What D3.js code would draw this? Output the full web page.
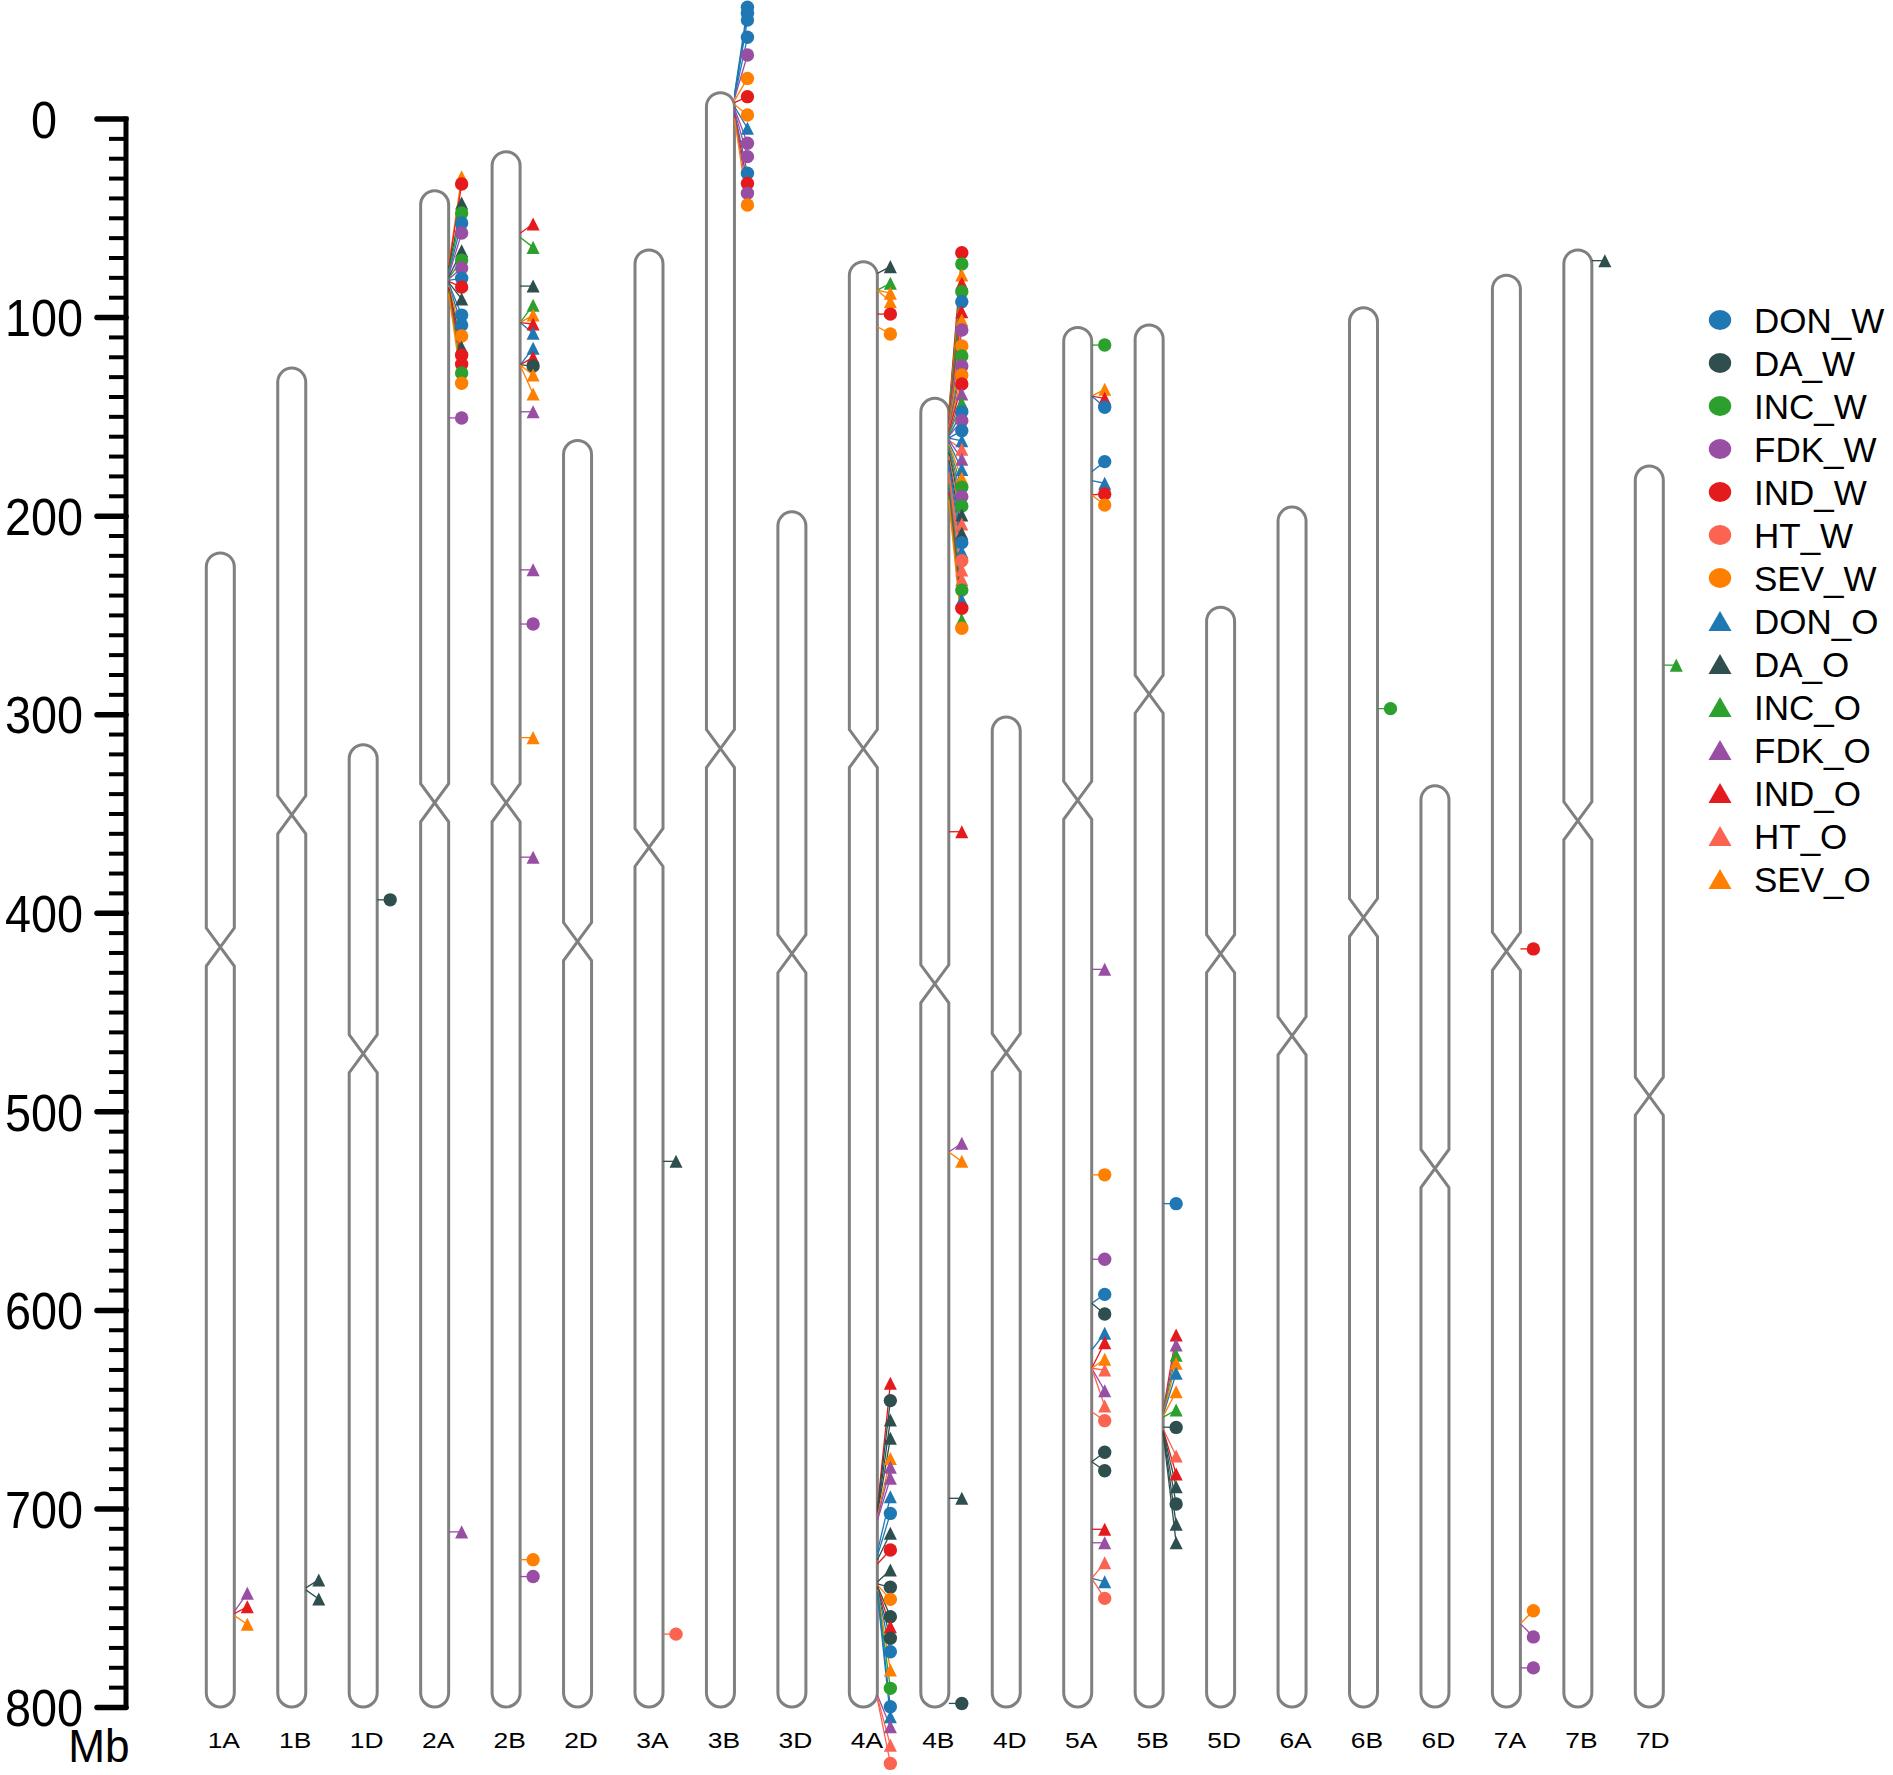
<!DOCTYPE html>
<html>
<head>
<meta charset="utf-8">
<script src="https://cdn.jsdelivr.net/npm/d3@7"></script>
<style>
  body { margin: 0; background: #ffffff; }
  text { font-family: "Liberation Sans", Arial, sans-serif; fill: #000; }
</style>
</head>
<body>
<div id="chart"></div>
<script>
// Chromosomes: outline starts at chromStart (Mb on the axis) and ends at 800
const chroms = ["1A","1B","1D","2A","2B","2D","3A","3B","3D","4A","4B","4D","5A","5B","5D","6A","6B","6D","7A","7B","7D"];
const chromStart = [218.8, 125.7, 315.4, 36.4, 16.7, 162.2, 66.2, -13, 198.1, 72.1, 140.9, 301.4, 105.2, 104, 246.1, 195.7, 95.3, 336.1, 78.9, 66.2, 175];
const centromere = [417.3, 350.7, 471, 344.6, 344.6, 414.5, 367.1, 317.3, 420.6, 317.3, 435.8, 470.5, 343.4, 289.9, 420.6, 462, 402.4, 528.8, 419.4, 353.7, 492.4];

const traits = ["DON_W","DA_W","INC_W","FDK_W","IND_W","HT_W","SEV_W","DON_O","DA_O","INC_O","FDK_O","IND_O","HT_O","SEV_O"];
const traitColors = {DON: "#1f78b4", DA: "#2f4f4f", INC: "#2ca02c", FDK: "#984ea3", IND: "#e41a1c", HT: "#fa6450", SEV: "#ff7f00"};

const axisTicks = [0, 100, 200, 300, 400, 500, 600, 700, 800];

// QTL per chromosome: [trait, label position (Mb), position on chromosome (Mb, default = label)]
const qtl1A = [["FDK_O",742.7,752],["IND_O",749.5,753],["SEV_O",758.3,754]];
const qtl1B = [["DA_O",736,740],["DA_O",745.6,741]];
const qtl1D = [["DA_W",393.5]];
const qtl2A = [
  ["SEV_O",29.3,74],["IND_W",33.0,75],["DA_O",42.6,76],["INC_W",47.6,77],["DON_W",52.6,78],
  ["FDK_W",57.7,79],["DA_O",66.6,80],["INC_W",71.3,80.5],["FDK_W",75.3,81],["DON_W",80.4,81.5],
  ["IND_W",84.9,82],["DA_O",90.9,82.5],["DON_W",99.0,83],["DON_W",104.0,83.5],["SEV_W",109.5,84],
  ["DA_O",115.2,85],["IND_W",119.2,85.5],["IND_W",123.7,86],["INC_W",128.2,87],["SEV_W",133.3,88],
  ["FDK_W",150.8],["FDK_O",711.8]
];
const qtl2B = [
  ["IND_O",53.1,57.8],["INC_O",64.9,59.8],["DA_O",84.4],["INC_O",94.0,102.8],["SEV_O",99.0,102.8],
  ["IND_O",103.5,102.8],["DON_O",108.2,102.8],["DON_O",115.7,124.1],["IND_O",120.3,124.1],["DA_W",124.6,124.1],
  ["SEV_O",129.2,124.1],["SEV_O",138.7,124.1],["FDK_O",147.7],["FDK_O",227.3],["FDK_W",254.6],
  ["SEV_O",311.8],["FDK_O",372],["SEV_W",725.8],["FDK_W",734.3]
];
const qtl3A = [["DA_O",525.2],["HT_W",763.3]];
const qtl3B = [
  ["DON_W",-56.0,-12],["DON_W",-53.0,-11.5],["DON_W",-49.6,-11],["DON_W",-40.9,-10.5],["FDK_W",-32.0,-10],
  ["SEV_W",-20.2,-9],["IND_W",-11.0,-8],["SEV_W",-1.8,-7],["DON_O",4.9,-6],["FDK_W",12.5,-5],
  ["FDK_W",19.2,-4],["DON_W",27.6,-3],["IND_W",32.7,-2],["FDK_W",37.7,-1],["SEV_W",43.6,0]
];
const qtl4A = [
  ["DA_O",74.6,78],["INC_O",83.0,86.4],["SEV_O",88.0,86.4],["SEV_O",92.3,86.4],["IND_W",98.5],["SEV_W",108.5,104.9],
  ["IND_O",637.0,700],["DA_W",645.7,701],["DA_O",655.5,702],["DA_O",664.7,703],["SEV_O",674.8,704],
  ["FDK_O",679.3,705],["FDK_O",684.8,706],["DON_O",694.1,722],["DON_W",702.5,724],["DA_O",712.5,726],
  ["IND_W",720.9,728],["DA_O",731.0,737],["DA_W",739.7,738],["SEV_W",745.8,738.5],["DA_W",754.5,739],
  ["IND_O",759.6,739.5],["DA_W",765.4,740],["DON_W",772.2,740.5],["SEV_O",781.4,741],["INC_W",790.6,741.5],
  ["DON_W",799.9,742],["DON_O",804.9,742.5],["FDK_O",809.9,794],["HT_O",819.2,795],["HT_W",828.4,796]
];
const qtl4B = [
  ["IND_W",67.6,148],["INC_W",73.3,149],["SEV_O",78.8,150],["IND_O",83.0,151],["INC_W",87.2,152],
  ["DON_W",92.3,153],["IND_O",97.3,154],["SEV_O",101.5,155],["FDK_W",106.5,155],["SEV_W",114.6,156],
  ["INC_W",119.6,157],["FDK_W",124.6,157],["SEV_W",129.2,158],["IND_W",133.7,158],["FDK_O",138.7,159],
  ["INC_O",143.4,159],["DON_W",147.7,160],["FDK_W",152.2,160],["DON_W",157.2,161],["DON_O",162.3,161],
  ["HT_O",166.6,162],["FDK_O",171.6,162],["DON_O",176.7,163],["SEV_O",181.2,164],["INC_W",185.7,165],
  ["FDK_W",190.5,166],["INC_W",195.2,167],["DA_O",199.7,168],["HT_O",204.2,170],["DA_O",208.9,172],
  ["DON_W",213.6,174],["DON_O",218.2,176],["HT_W",222.7,178],["HT_O",227.4,180],["HT_O",232.1,182],
  ["INC_W",237.5,184],["DON_O",242.5,186],["IND_W",246.7,188],["INC_O",252.6,190],["SEV_W",256.7,192],
  ["IND_O",359.2],["FDK_O",516.1,520.5],["SEV_O",525.2,520.5],["DA_O",694.9],["DA_W",798.2]
];
const qtl5A = [
  ["INC_W",114.1],["SEV_O",136.4,139.8],["IND_O",140.9,139.8],["DON_W",145.4,139.8],["DON_W",172.8,177.9],
  ["DON_O",183.7,182.4],["IND_W",189.1,189.6],["SEV_W",194.7,189.6],["FDK_O",428.5],["SEV_W",532],
  ["FDK_W",574.5],["DON_W",592.2,596.7],["DA_W",602.1,596.7],["DON_O",611.8,620.2],["IND_O",616.5,629.4],
  ["SEV_O",624.9,629.4],["HT_O",630.3,629.4],["FDK_O",640.7,629.4],["HT_O",648.4,629.4],["HT_W",655.8,651.3],
  ["DA_W",671.7,676.5],["DA_W",681.0,676.5],["IND_O",710.5],["FDK_O",717.3],["HT_O",727.3,735.2],
  ["DON_O",736.9,735.2],["HT_W",745.3,735.2]
];
const qtl5B = [
  ["DON_W",546.5],
  ["IND_O",612.7,651],["FDK_O",617.7,651.5],["INC_O",622.8,652],["SEV_O",626.9,652.5],["DON_O",631.9,653],
  ["SEV_O",641.2,653.5],["INC_O",650.4,654],["DA_W",659.2,659],["HT_O",673.6,660],["IND_O",682.7,660.5],
  ["DA_O",689.1,661],["DA_W",697.8,661.5],["DA_O",707.9,662],["DA_O",717.3,662.5]
];
const qtl6B = [["INC_W",297.2]];
const qtl7A = [["IND_W",418.2],["SEV_W",751.5,758],["FDK_W",764.7,758],["FDK_W",780.3]];
const qtl7B = [["DA_O",71.6]];
const qtl7D = [["INC_O",275.3]];

const qtlByChrom = {
  "1A": qtl1A, "1B": qtl1B, "1D": qtl1D, "2A": qtl2A, "2B": qtl2B, "3A": qtl3A, "3B": qtl3B,
  "4A": qtl4A, "4B": qtl4B, "5A": qtl5A, "5B": qtl5B, "6B": qtl6B, "7A": qtl7A, "7B": qtl7B, "7D": qtl7D
};

const width = 1893, height = 1775;
const halfW = 14;      // half chromosome width
const cenH = 19;       // half height of the centromere cross
const markOff = 27;    // marker offset from chromosome centre

const svg = d3.select("#chart").append("svg")
  .attr("width", width)
  .attr("height", height);

const y = d3.scaleLinear().domain([0, 800]).range([118.5, 1707]);
const x = d3.scalePoint().domain(chroms).range([220.3, 1649.3]);

const colorOf = t => traitColors[t.split("_")[0]];

// custom triangle (as wide as tall)
const triangle = {
  draw(ctx, size) {
    const s = Math.sqrt(size);
    ctx.moveTo(0, -s / 2);
    ctx.lineTo(s / 2, s / 2);
    ctx.lineTo(-s / 2, s / 2);
    ctx.closePath();
  }
};
const markSymbol = d3.symbol()
  .type(t => t.endsWith("_W") ? d3.symbolCircle : triangle)
  .size(t => t.endsWith("_W") ? Math.PI * 6.7 * 6.7 : 170);

// Chromosome outline
function chromPath(cx, start, cen) {
  const yt = y(start), yb = y(800), yc = y(cen);
  const p = d3.path();
  p.moveTo(cx - halfW, yt + halfW);
  p.arc(cx, yt + halfW, halfW, Math.PI, 2 * Math.PI);
  p.lineTo(cx + halfW, yc - cenH);
  p.lineTo(cx - halfW, yc + cenH);
  p.lineTo(cx - halfW, yb - halfW);
  p.arc(cx, yb - halfW, halfW, Math.PI, 0, true);
  p.lineTo(cx + halfW, yc + cenH);
  p.lineTo(cx - halfW, yc - cenH);
  p.closePath();
  return p.toString();
}

svg.append("g").selectAll("path")
  .data(chroms)
  .join("path")
  .attr("d", (c, i) => chromPath(x(c), chromStart[i], centromere[i]))
  .attr("fill", "none")
  .attr("stroke", "#808080")
  .attr("stroke-width", 3)
  .attr("stroke-linejoin", "miter");

// chromosome names
svg.append("g").selectAll("text")
  .data(chroms)
  .join("text")
  .attr("transform", c => `translate(${x(c) + 3.5},1748) scale(1.2,1)`)
  .attr("text-anchor", "middle")
  .attr("font-size", 22)
  .text(c => c);

// QTL links and markers
const qtlRows = [];
Object.entries(qtlByChrom).forEach(([c, rows]) => {
  rows.forEach(r => qtlRows.push({chrom: c, trait: r[0], pos: r[1], at: r.length > 2 ? r[2] : r[1]}));
});

svg.append("g").selectAll("line")
  .data(qtlRows)
  .join("line")
  .attr("x1", d => x(d.chrom) + halfW)
  .attr("y1", d => y(d.at))
  .attr("x2", d => x(d.chrom) + markOff)
  .attr("y2", d => y(d.pos))
  .attr("stroke", d => colorOf(d.trait))
  .attr("stroke-width", 1.3);

svg.append("g").selectAll("path")
  .data(qtlRows)
  .join("path")
  .attr("transform", d => `translate(${x(d.chrom) + markOff},${y(d.pos)})`)
  .attr("d", d => markSymbol(d.trait))
  .attr("fill", d => colorOf(d.trait));

// Axis: minor ticks every 10 Mb, major every 100 Mb
const axisX = 126;
const minorTicks = d3.range(0, 801, 10).filter(v => v % 100 !== 0);

const minorAxis = svg.append("g")
  .attr("transform", `translate(${axisX},0)`)
  .call(d3.axisLeft(y).tickValues(minorTicks).tickSize(17).tickSizeOuter(0).tickFormat(""));
minorAxis.selectAll(".tick line").attr("stroke", "#000").attr("stroke-width", 4);
minorAxis.select(".domain").remove();

const majorAxis = svg.append("g")
  .attr("transform", `translate(${axisX},0)`)
  .call(d3.axisLeft(y).tickValues(axisTicks).tickSize(29).tickSizeOuter(0));
majorAxis.select(".domain")
  .attr("stroke", "#000")
  .attr("stroke-width", 5)
  .attr("d", `M0,${y(0) - 2}V${y(800) + 2}`);
majorAxis.selectAll(".tick line")
  .attr("stroke", "#000")
  .attr("stroke-width", 5.5)
  .attr("stroke-linecap", "round");
majorAxis.selectAll(".tick text")
  .attr("x", 0)
  .attr("dy", "0.36em")
  .attr("text-anchor", "middle")
  .attr("transform", `translate(${44 - axisX},0) scale(0.9,1)`)
  .attr("font-size", 52)
  .attr("font-family", "'Liberation Sans', Arial, sans-serif")
  .attr("fill", "#000");

svg.append("text")
  .attr("transform", "translate(99,1762) scale(0.96,1)")
  .attr("text-anchor", "middle")
  .attr("font-size", 46)
  .text("Mb");

// Legend
const legend = svg.append("g").attr("transform", "translate(1720,320)");
const legendRow = legend.selectAll("g")
  .data(traits)
  .join("g")
  .attr("transform", (t, i) => `translate(0,${i * 43})`);

legendRow.append("path")
  .attr("d", t => t.endsWith("_W")
    ? d3.symbol(d3.symbolCircle, Math.PI * 10 * 10)()
    : d3.symbol(triangle, 20 * 20)())
  .attr("transform", t => t.endsWith("_W") ? "scale(1.12,1)" : "scale(1.15,1)")
  .attr("fill", t => colorOf(t));

legendRow.append("text")
  .attr("x", 34)
  .attr("y", 12.5)
  .attr("font-size", 35)
  .text(t => t);
</script>
</body>
</html>
